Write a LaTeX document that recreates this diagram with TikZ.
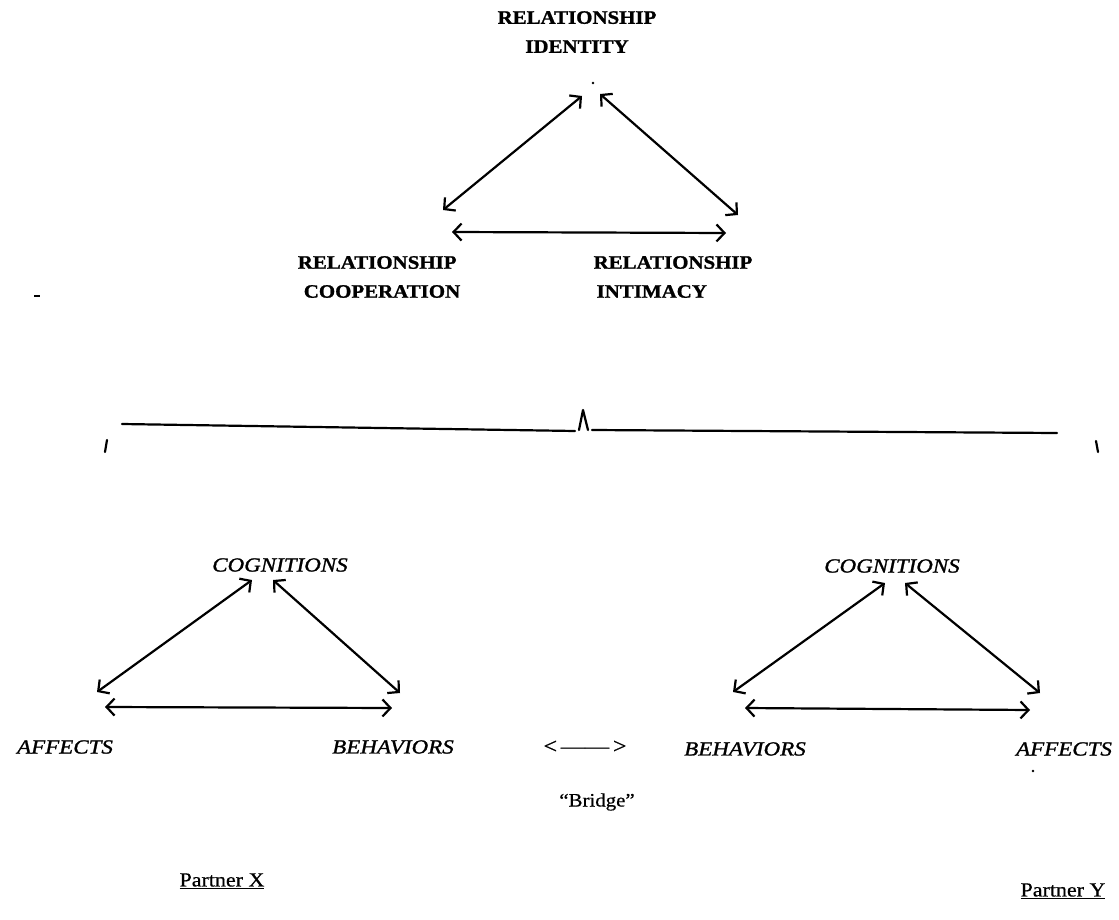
\documentclass[tikz,border=0pt]{standalone}
\usepackage{fontspec}
\setmainfont{Liberation Serif}
\newfontfamily\capfont[FakeStretch=1.1,FakeBold=1.2]{Liberation Serif}
\newfontfamily\labfont[FakeStretch=1.15,FakeBold=1.2]{Liberation Serif}
\newfontfamily\plainfont[FakeStretch=1.1,FakeBold=0.6]{Liberation Serif}
\usetikzlibrary{arrows.meta}
\begin{document}
\begin{tikzpicture}[x=1pt,y=-1pt,
  biarrow/.style={line width=2.2pt,line cap=round,{Straight Barb[length=8pt,width=17pt,line width=2.2pt]}-{Straight Barb[length=8pt,width=17pt,line width=2.2pt]}},
  caplabel/.style={font=\capfont\bfseries\fontsize{19}{29}\selectfont,inner sep=0pt},
  itlabel/.style={font=\labfont\itshape\fontsize{20}{24}\selectfont,inner sep=0pt},
  plainlabel/.style={font=\plainfont\fontsize{19}{24}\selectfont,inner sep=0pt},
  bracket/.style={line width=2.2pt,line cap=round}]
\useasboundingbox (0,0) rectangle (1119,920);

% ---- upper relationship triangle
\node[caplabel,align=center] (ident) at (577,32) {RELATIONSHIP\\IDENTITY};
\node[caplabel,align=left] (coop) at (379,277) {RELATIONSHIP\\\hspace*{6pt}COOPERATION};
\node[caplabel,align=left] (intim) at (673,277) {RELATIONSHIP\\\hspace*{3pt}INTIMACY};

\coordinate (idL) at (582,96);
\coordinate (idR) at (600,94);
\coordinate (coT) at (443,210);
\coordinate (coR) at (452,232);
\coordinate (inT) at (738,215);
\coordinate (inL) at (726,233);
\draw[biarrow] (coT) -- (idL);
\draw[biarrow] (idR) -- (inT);
\draw[biarrow] (coR) -- (inL);

% stray marks of the scan
\fill (593,83) circle (1.4pt);
\draw[line width=1.6pt] (34,296) -- (40,296);
\fill (1033,771) circle (1.3pt);

% ---- bracket
\coordinate (brL) at (122,424);
\coordinate (brM1) at (575,431);
\coordinate (brA1) at (579,430);
\coordinate (brTop) at (583,410);
\coordinate (brA2) at (588,430);
\coordinate (brM2) at (592,430);
\coordinate (brR) at (1057,433);
\draw[bracket] (brL) -- (brM1);
\draw[bracket,line join=round] (brA1) -- (brTop) -- (brA2);
\draw[bracket] (brM2) -- (brR);
\draw[bracket] (107,440) -- (105,452);
\draw[bracket] (1096,441) -- (1098,452);

% ---- partner X triangle
\node[itlabel] (cogX) at (280,565) {COGNITIONS};
\node[itlabel] (affX) at (65,747) {AFFECTS};
\node[itlabel] (behX) at (393,747) {BEHAVIORS};
\coordinate (cxL) at (252,580);
\coordinate (cxR) at (273,580);
\coordinate (axT) at (97,692);
\coordinate (axR) at (105,707);
\coordinate (bxT) at (400,693);
\coordinate (bxL) at (392,708);
\draw[biarrow] (axT) -- (cxL);
\draw[biarrow] (cxR) -- (bxT);
\draw[biarrow] (axR) -- (bxL);

% ---- partner Y triangle
\node[itlabel] (cogY) at (892,566) {COGNITIONS};
\node[itlabel] (behY) at (745,749) {BEHAVIORS};
\node[itlabel] (affY) at (1064,749) {AFFECTS};
\coordinate (cyL) at (885,583);
\coordinate (cyR) at (905,583);
\coordinate (byT) at (733,692);
\coordinate (byR) at (745,708);
\coordinate (ayT) at (1040,693);
\coordinate (ayL) at (1030,710);
\draw[biarrow] (byT) -- (cyL);
\draw[biarrow] (cyR) -- (ayT);
\draw[biarrow] (byR) -- (ayL);

% ---- bridge
\node[plainlabel,font=\plainfont\fontsize{22}{24}\selectfont] (bridgearrow) at (585,747) {<\,——\,>};
\node[plainlabel] (bridge) at (597,802) {“Bridge”};

% ---- partners
\node[plainlabel,font=\plainfont\fontsize{20}{24}\selectfont] (px) at (222,881) {\underline{Partner X}};
\node[plainlabel,font=\plainfont\fontsize{20}{24}\selectfont] (py) at (1063,891) {\underline{Partner Y}};
\end{tikzpicture}
\end{document}
